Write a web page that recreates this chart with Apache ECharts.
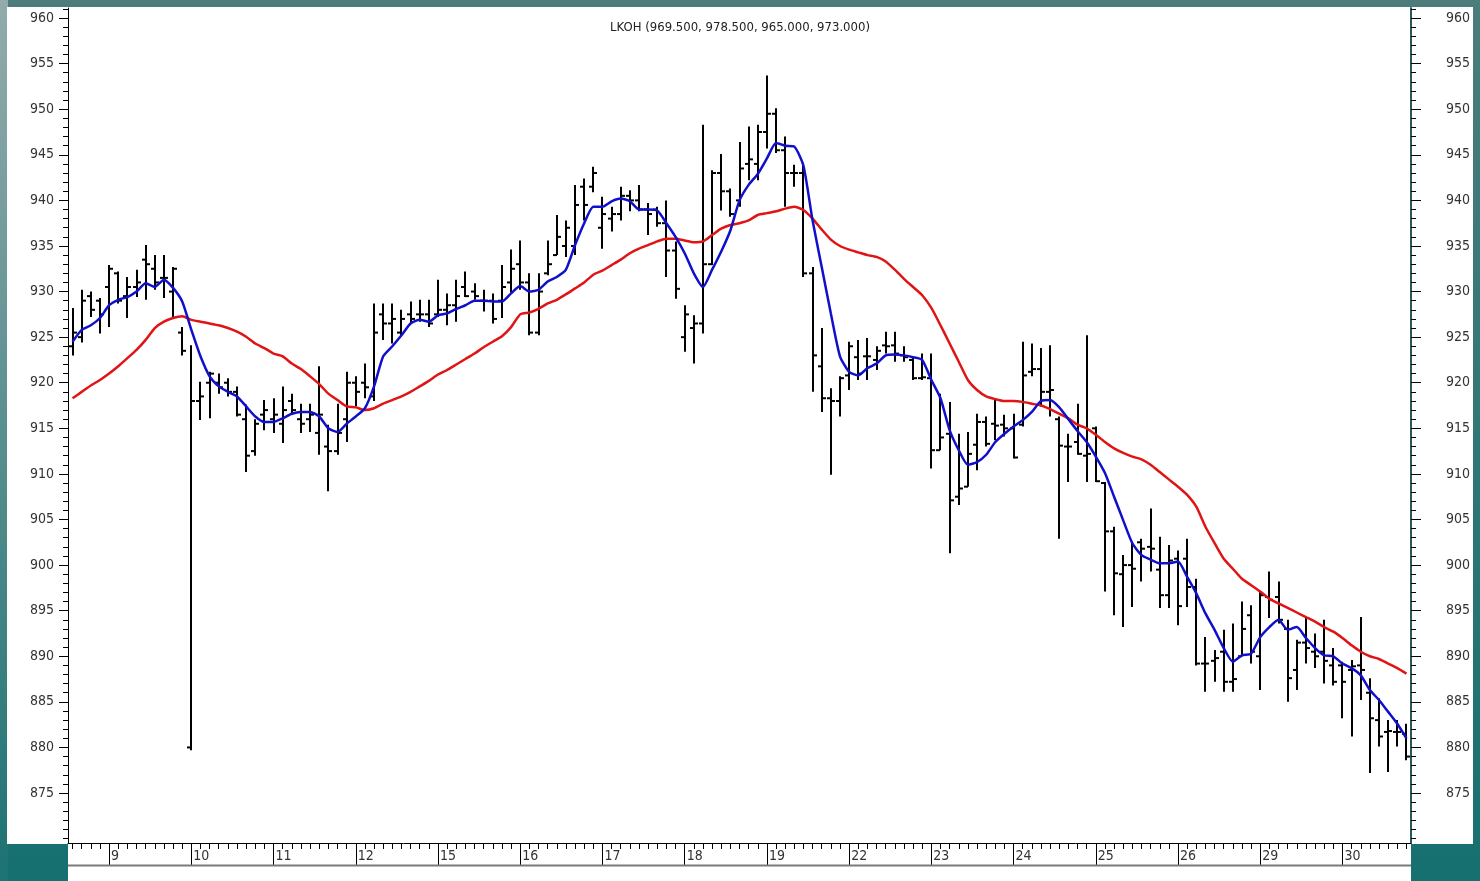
<!DOCTYPE html>
<html>
<head>
<meta charset="utf-8">
<title>LKOH</title>
<script src="https://cdn.jsdelivr.net/npm/echarts@6/dist/echarts.min.js"></script>
<style>
  html, body { margin: 0; padding: 0; }
  #chart { width: 1480px; height: 881px; }
</style>
</head>
<body>
<div id="chart"></div>
<script>
// day labels on the time axis, hourly bars (9 per session), first session partial
const dayLabels = ['9', '10', '11', '12', '15', '16', '17', '18', '19', '22', '23', '24', '25', '26', '29', '30']
const barsPerDay = 9
const leadBars = 4

const opens = [
  924, 925, 929.5, 929, 930.5, 932, 929.5, 930.5, 933.5, 932.5,
  931.5, 930, 925.5, 880, 918, 920, 920, 920, 919, 916,
  912.5, 916.5, 916, 915.5, 918, 916, 916, 914.5, 913, 912.5,
  916, 920, 920, 918.5, 927.5, 926.5, 925.5, 927.5, 927.5, 927.5,
  927.5, 928, 928.5, 930.5, 930, 929, 929, 929, 931, 933,
  931, 925.5, 932, 934, 935, 935, 941.5, 941.5, 937, 938,
  938.5, 940.5, 940, 939, 939, 937.5, 934.5, 925, 926, 926.5,
  933, 943, 941, 940, 944, 944, 947.5, 949.5, 945.5, 943,
  943, 932, 921.8, 918.3, 918, 920.8, 922.8, 922.9, 922.5, 924.1,
  924.1, 923, 922.5, 920.5, 920.5, 912.6, 914.4, 907.5, 908.6, 913.2,
  915.7, 915.5, 915.4, 915, 915.4, 921.2, 921.5, 919, 916, 913,
  913.5, 912, 915, 909, 903.7, 899, 900, 902.5, 902, 899.5,
  896.7, 900.7, 900.7, 897.6, 889.2, 889.5, 890.5, 887.2, 890, 894.5,
  890, 896.5, 896.5, 893, 888.5, 891.5, 890.5, 890.5, 889, 889,
  888.5, 889, 886, 883, 881.7, 881.7, 881.5
]
const highs = [
  928.2, 930.2, 930, 929.3, 932.9, 932.2, 931.6, 932.4, 935.1, 934,
  934, 932.7, 926.1, 924.1, 920.1, 921.2, 921, 920.5, 919.6, 917.6,
  916, 918.1, 918.3, 919.6, 918.8, 917.7, 917.7, 921.8, 915.4, 917.7,
  921.2, 920.7, 922.1, 928.7, 928.7, 928.7, 928, 928.9, 929.1, 929.1,
  931.3, 929.8, 931.3, 932.2, 930.9, 930.2, 929.8, 932.9, 934.6, 935.6,
  932, 932, 935.6, 938.4, 937.8, 941.7, 942.4, 943.7, 940.4, 939.3,
  941.5, 941.1, 941.7, 939.7, 939.3, 940, 935.5, 928.5, 927.4, 948.3,
  943.3, 945.1, 941.3, 946.4, 948.1, 948.3, 953.7, 950.1, 947, 943.9,
  944.1, 932.7, 926, 919.4, 920.7, 924.5, 924.7, 924.9, 924, 925.6,
  925.6, 924, 922.9, 923.2, 923.2, 918.8, 917.9, 914.4, 914.6, 916.6,
  916.3, 918.3, 916.5, 916.6, 924.5, 924.3, 923.8, 924.1, 916.3, 914.4,
  917.7, 925.2, 915.2, 909.1, 904.2, 901.1, 902.6, 902.9, 906.2, 903.1,
  902.2, 901.6, 902.9, 898.5, 892.1, 890.7, 892.9, 893.6, 896, 895.6,
  897.1, 899.3, 898.2, 894, 891.8, 894.2, 892.5, 894, 890.9, 889.4,
  889.6, 894.3, 887.6, 885.4, 883, 883, 882.6
]
const lows = [
  923, 924.4, 927.2, 925.4, 926.1, 928.7, 927.1, 929.4, 929.1, 930.2,
  929.3, 927.2, 923, 879.7, 915.9, 916.1, 918.8, 918.5, 916.3, 910.2,
  912, 914.8, 914.5, 913.4, 916.5, 914.5, 914.6, 912.1, 908.1, 912.1,
  913.5, 917.4, 918.3, 918, 924.7, 924.3, 925.2, 926.5, 926.7, 926.1,
  927.2, 926.3, 926.7, 929.4, 929.1, 927.8, 926.5, 927.1, 929.9, 930.2,
  925.2, 925.2, 931.8, 934, 933.8, 934, 937.8, 940.9, 934.7, 936.6,
  937.8, 938.8, 938.8, 936.2, 937.1, 931.6, 929.2, 923.4, 922.1, 925.4,
  932.9, 938.9, 938.2, 939.3, 942.2, 942.2, 945.7, 945.2, 939.3, 941.5,
  931.6, 919, 916.8, 909.9, 916.3, 919.2, 920.3, 920.3, 921.4, 923.2,
  922.3, 922.3, 920.3, 920.3, 910.6, 912.6, 901.3, 906.6, 908.6, 910.4,
  913, 913.7, 914.1, 911.7, 915.2, 920.7, 917.4, 916.3, 902.9, 909.1,
  912.1, 909.1, 909.1, 897.1, 894.5, 893.2, 895.4, 898.2, 899.3, 895.3,
  895.3, 893.4, 895.4, 889, 886.1, 887.2, 886.1, 886.1, 890, 889.2,
  886.3, 894.2, 893.6, 885, 886.3, 889.2, 888.7, 887, 886.8, 883.2,
  881.2, 885.2, 877.2, 880.1, 877.3, 880.1, 878.6
]
const closes = [
  925.5, 929, 928, 927.5, 932.5, 929, 930.5, 931, 933, 931,
  931.5, 932.5, 923.5, 918, 918.5, 921, 919.5, 919, 916.5, 912,
  915.5, 917, 916.5, 917, 917, 915.5, 916.5, 916.5, 912.5, 914.5,
  920, 919, 919.5, 925.5, 926.5, 927, 927, 927, 927.5, 926.5,
  928, 928.5, 929.5, 929.5, 929.5, 929, 927, 930.5, 932.5, 931,
  925.5, 930, 933, 936, 937, 939.5, 939.5, 943, 938.5, 938.5,
  940.5, 940, 939, 938.5, 937.5, 934.5, 930.3, 927.5, 926.5, 933,
  943, 941, 938.5, 943.5, 944.5, 947.5, 949.5, 945.5, 943, 943,
  932, 923, 918.3, 918, 920.5, 924, 921, 922.9, 923.5, 924,
  923.2, 922.8, 920.5, 920.6, 912.6, 914, 907.1, 908.4, 912.2, 915.7,
  913.3, 915.3, 915, 911.8, 920.8, 921.5, 919, 919.2, 913.1, 913,
  912.2, 912.2, 909.2, 903.7, 899.1, 900, 899.6, 901.8, 901.8, 896.7,
  900.5, 895.5, 897.6, 889.2, 889.2, 889.8, 887.2, 887.5, 893, 890.5,
  896.7, 896.2, 894, 887.6, 891.5, 890.9, 890, 889.5, 887.2, 887.2,
  888.9, 888.5, 883.2, 881.2, 881.8, 881.7, 879
]
// short moving average (blue)
const maShort = [
  924.5, 925.8, 926.3, 927.1, 928.5, 929.1, 929.4, 930, 930.9, 930.5,
  931.3, 930.4, 928.9, 925.8, 922.9, 920.7, 919.6, 919, 918.5, 917.4,
  916.3, 915.7, 915.7, 916.1, 916.6, 916.8, 916.8, 916.3, 915, 914.6,
  915.5, 916.3, 917.2, 919.6, 922.9, 924, 925.2, 926.5, 926.9, 926.7,
  927.4, 927.6, 928.1, 928.5, 929, 929, 928.9, 928.9, 929.8, 930.6,
  930, 930.2, 931.1, 931.6, 932.4, 935.1, 937.5, 939.3, 939.3, 939.9,
  940.2, 939.9, 939, 939, 938.9, 937.5, 936, 934.2, 932, 930.5,
  932.4, 934.4, 936.7, 940, 941.7, 942.9, 944.6, 946.3, 946, 945.9,
  943.8, 937.8, 932.7, 927.6, 922.9, 921.2, 920.8, 921.6, 922.1, 923,
  923.1, 923, 922.8, 922.5, 920.3, 918.3, 914.8, 912.6, 911, 911.3,
  912.1, 913.5, 914.4, 915.2, 915.9, 916.8, 918, 918.1, 917.3, 916,
  914.7, 913.5, 911.9, 910.1, 907.5, 904.9, 902.4, 901.1, 900.6, 900.2,
  900.2, 900.4, 898.7, 896.9, 894.7, 892.9, 890.9, 889.4, 890.1, 890.3,
  892.1, 893.2, 894, 892.9, 893.2, 892, 890.9, 890.1, 890, 889.2,
  888.7, 887.9, 886.3, 885.2, 883.9, 882.6, 881
]
// long moving average (red)
const maLong = [
  918.3, 919, 919.7, 920.3, 921, 921.8, 922.7, 923.6, 924.7, 926,
  926.7, 927.1, 927.3, 926.9, 926.7, 926.5, 926.3, 926, 925.6, 925.05,
  924.3, 923.8, 923.2, 922.9, 922.1, 921.5, 920.7, 919.85, 918.8, 918.1,
  917.4, 917.3, 917, 917.2, 917.7, 918.1, 918.5, 919, 919.6, 920.2,
  920.9, 921.4, 922, 922.6, 923.2, 923.9, 924.5, 925.1, 926.1, 927.5,
  927.7, 928.1, 928.7, 929.1, 929.7, 930.35, 931, 931.85, 932.3, 932.9,
  933.5, 934.2, 934.7, 935.1, 935.5, 935.8, 935.8, 935.6, 935.4, 935.5,
  936.2, 936.9, 937.3, 937.5, 937.8, 938.4, 938.6, 938.8, 939.1, 939.3,
  938.95, 938, 936.8, 935.7, 935, 934.6, 934.3, 934, 933.8, 933.3,
  932.4, 931.4, 930.5, 929.6, 928.2, 926.3, 924.3, 922.3, 920.3, 919.2,
  918.5, 918.2, 918, 918, 917.9, 917.7, 917.5, 917.1, 916.6, 916.1,
  915.4, 915, 914.3, 913.5, 912.8, 912.3, 911.9, 911.6, 911, 910.2,
  909.4, 908.6, 907.7, 906.4, 904.2, 902.4, 900.7, 899.6, 898.5, 897.8,
  897.1, 896.3, 895.8, 895.3, 894.8, 894.3, 893.8, 893.2, 892.7, 892,
  891.2, 890.5, 890, 889.7, 889.2, 888.7, 888.1
]
const yTicks = [875, 880, 885, 890, 895, 900, 905, 910, 915, 920, 925, 930, 935, 940, 945, 950, 955, 960]

const FONT = '"Liberation Sans Narrow", "DejaVu Sans Condensed", "Arial Narrow", sans-serif'

// category names: "day|hour"
const categories = []
for (let i = 0; i < leadBars; i++) {
  categories.push('8|' + (barsPerDay - leadBars + i))
}
dayLabels.forEach(function(d) {
  for (let h = 0; h < barsPerDay; h++) {
    categories.push(d + '|' + h)
  }
})
categories.length = closes.length

const yMinor = []
for (let v = 870; v <= 961; v++) {
  yMinor.push(v)
}

function isDayStart(index) {
  return index >= leadBars && (index - leadBars) % barsPerDay === 0
}

const ohlc = closes.map(function(c, i) {
  return [i, opens[i], c, lows[i], highs[i]]
})

const chart = echarts.init(document.getElementById('chart'))

const yBase = {
  type: 'value',
  min: 869.52,
  max: 961.1,
  splitLine: { show: false },
  axisLine: { show: false },
  axisLabel: { show: false }
}

function renderBar(params, api) {
  const idx = api.value(0)
  const o = api.coord([idx, api.value(1)])
  const c = api.coord([idx, api.value(2)])
  const l = api.coord([idx, api.value(3)])
  const h = api.coord([idx, api.value(4)])
  const x = Math.round(o[0])
  const style = { stroke: '#000', lineWidth: 2 }
  return {
    type: 'group',
    children: [
      { type: 'line', shape: { x1: x, y1: h[1], x2: x, y2: l[1] }, style: style },
      { type: 'line', shape: { x1: x - 4, y1: o[1], x2: x, y2: o[1] }, style: style },
      { type: 'line', shape: { x1: x, y1: c[1], x2: x + 4, y2: c[1] }, style: style }
    ]
  }
}

chart.setOption({
  animation: false,
  backgroundColor: new echarts.graphic.LinearGradient(0, 0, 0, 1, [
    { offset: 0, color: '#4c7c7c' },
    { offset: 1, color: '#167070' }
  ]),
  graphic: [
    {
      type: 'rect', z: -100, silent: true,
      shape: { x: 0, y: 0, width: 8, height: 881 },
      style: {
        fill: new echarts.graphic.LinearGradient(0, 0, 0, 1, [
          { offset: 0, color: '#93abab' },
          { offset: 1, color: '#1d7272' }
        ])
      }
    },
    { type: 'rect', z: -100, silent: true, shape: { x: 7, y: 7, width: 1466, height: 837 }, style: { fill: '#fff' } },
    { type: 'rect', z: -100, silent: true, shape: { x: 68, y: 843, width: 1343, height: 38 }, style: { fill: '#fff' } },
    { type: 'line', z: 5, silent: true, shape: { x1: 68, y1: 865.5, x2: 1411, y2: 865.5 }, style: { stroke: '#7a7a7a', lineWidth: 2 } }
  ],
  title: {
    text: 'LKOH (969.500, 978.500, 965.000, 973.000)',
    left: 'center',
    top: 16,
    textStyle: { fontFamily: FONT, fontSize: 13, fontWeight: 'normal', color: '#222' }
  },
  grid: { left: 68, right: 69, top: 8, bottom: 38 },
  xAxis: [
    {
      type: 'category',
      data: categories,
      position: 'bottom',
      boundaryGap: true,
      axisLine: { show: true, onZero: false, lineStyle: { color: '#000', width: 1 } },
      axisTick: { show: true, interval: 0, alignWithLabel: true, length: 6, lineStyle: { color: '#000' } },
      axisLabel: { show: false },
      splitLine: { show: false }
    },
    {
      type: 'category',
      data: categories,
      position: 'bottom',
      boundaryGap: true,
      axisLine: { show: false, onZero: false },
      axisTick: { show: true, interval: isDayStart, alignWithLabel: true, length: 23, lineStyle: { color: '#000' } },
      axisLabel: {
        show: true,
        interval: isDayStart,
        formatter: function(v) { return v.split('|')[0] },
        align: 'left',
        margin: 6,
        padding: [0, 0, 0, 2],
        fontFamily: FONT,
        fontSize: 14,
        color: '#333'
      },
      splitLine: { show: false }
    }
  ],
  yAxis: [
    Object.assign({}, yBase, {
      position: 'left',
      axisLine: { show: true, lineStyle: { color: '#000', width: 1 } },
      axisTick: { show: true, customValues: yTicks, length: 9, lineStyle: { color: '#000' } },
      axisLabel: {
        show: true, customValues: yTicks, margin: 14,
        formatter: function(v) { return String(Math.round(v)) },
        fontFamily: FONT, fontSize: 14, color: '#333'
      }
    }),
    Object.assign({}, yBase, {
      position: 'left',
      axisTick: { show: true, customValues: yMinor, length: 5, lineStyle: { color: '#000' } }
    }),
    Object.assign({}, yBase, {
      position: 'right',
      axisLine: { show: true, lineStyle: { color: '#2c5a5a', width: 2 } },
      axisTick: { show: true, customValues: yTicks, length: 10, lineStyle: { color: '#000' } },
      axisLabel: {
        show: true, customValues: yTicks, margin: 35,
        formatter: function(v) { return String(Math.round(v)) },
        fontFamily: FONT, fontSize: 14, color: '#333'
      }
    }),
    Object.assign({}, yBase, {
      position: 'right',
      axisTick: { show: true, customValues: yMinor, length: 5, lineStyle: { color: '#000' } }
    })
  ],
  series: [
    {
      name: 'LKOH',
      type: 'custom',
      xAxisIndex: 0,
      yAxisIndex: 0,
      renderItem: renderBar,
      encode: { x: 0, y: [1, 2, 3, 4] },
      clip: true,
      data: ohlc,
      z: 2
    },
    {
      name: 'MA long',
      type: 'line',
      xAxisIndex: 0,
      yAxisIndex: 0,
      data: maLong,
      symbol: 'none',
      smooth: 0.2,
      lineStyle: { color: '#e01414', width: 2.5 },
      z: 3
    },
    {
      name: 'MA short',
      type: 'line',
      xAxisIndex: 0,
      yAxisIndex: 0,
      data: maShort,
      symbol: 'none',
      smooth: 0.2,
      lineStyle: { color: '#1010cc', width: 2.5 },
      z: 4
    }
  ]
})
</script>
</body>
</html>
